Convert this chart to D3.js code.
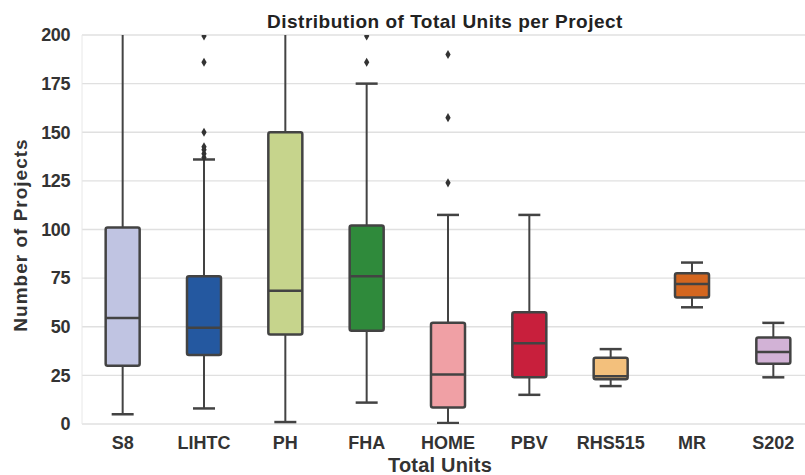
<!DOCTYPE html>
<html>
<head>
<meta charset="utf-8">
<script src="https://cdn.jsdelivr.net/npm/d3@7"></script>
<style>
  body { margin: 0; background: #fff; }
  svg { font-family: "Liberation Sans", Arial, sans-serif; }
</style>
</head>
<body>
<div id="chart"></div>
<script>
const categories = ['S8', 'LIHTC', 'PH', 'FHA', 'HOME', 'PBV', 'RHS515', 'MR', 'S202'];
const colors = ['#c0c4e2', '#2458a0', '#c6d48c', '#2f8a3b', '#f0a0a5', '#c81f3c', '#f3c07c', '#d4661f', '#d2b2d6'];
// five number summaries
const whiskerLow = [5, 8, 1, 11, 0.5, 15, 19.5, 60, 24];
const q1 = [30, 35.5, 46, 48, 8.5, 24, 23, 65, 31];
const median = [54.5, 49.5, 68.5, 76, 25.5, 41.5, 24.5, 72, 37];
const q3 = [101, 76, 150, 102, 52, 57.5, 34, 77.5, 44.5];
const whiskerHigh = [260, 136, 260, 175, 107.5, 107.5, 38.5, 83, 52];
const outliers = [
  [],
  [137, 139, 141, 142.5, 150, 186, 199.5],
  [],
  [186, 199.5],
  [124, 157.5, 190],
  [], [], [], []
];
const yTicks = [0, 25, 50, 75, 100, 125, 150, 175, 200];

const width = 805, height = 475;
const margin = { left: 82, top: 35, bottom: 51 };

const svg = d3.select('#chart').append('svg')
  .attr('width', width)
  .attr('height', height);

const x = d3.scaleBand()
  .domain(categories)
  .range([margin.left, 814]);

const y = d3.scaleLinear()
  .domain([0, 200])
  .range([height - margin.bottom, margin.top]);

svg.append('defs').append('clipPath').attr('id', 'plot')
  .append('rect')
  .attr('x', margin.left)
  .attr('y', margin.top)
  .attr('width', width - margin.left)
  .attr('height', y(0) - margin.top);

// grid
svg.append('g')
  .selectAll('line')
  .data(yTicks)
  .enter()
  .append('line')
  .attr('x1', margin.left)
  .attr('x2', width)
  .attr('y1', (d) => y(d))
  .attr('y2', (d) => y(d))
  .style('stroke', '#e0e0e0')
  .style('stroke-width', 1.3);

svg.append('line')
  .attr('x1', margin.left).attr('x2', margin.left)
  .attr('y1', margin.top).attr('y2', y(0))
  .style('stroke', '#e8e8e8');

// y axis
const yAxis = svg.append('g')
  .attr('transform', `translate(${margin.left},0)`)
  .call(d3.axisLeft(y).tickValues(yTicks).tickSize(0).tickPadding(12));
yAxis.select('.domain').remove();
yAxis.selectAll('text')
  .style('font-size', '18px')
  .style('font-weight', 'bold')
  .style('fill', '#333')
  .style('letter-spacing', '-0.4px');

// x axis
const xAxis = svg.append('g')
  .attr('transform', `translate(0,${y(0)})`)
  .call(d3.axisBottom(x).tickSize(0).tickPadding(12));
xAxis.select('.domain').remove();
xAxis.selectAll('text')
  .style('font-size', '18px')
  .style('font-weight', 'bold')
  .style('fill', '#333');

const boxW = 34, capW = 22;
const g = svg.append('g').attr('clip-path', 'url(#plot)');
const idx = d3.range(categories.length);
const cx = (i) => x(categories[i]) + x.bandwidth() / 2;
const lineColor = '#434343';

// whiskers
g.selectAll('.whisk')
  .data(idx)
  .enter()
  .append('line')
  .attr('class', 'whisk')
  .attr('x1', cx).attr('x2', cx)
  .attr('y1', (i) => y(whiskerLow[i]))
  .attr('y2', (i) => y(whiskerHigh[i]))
  .style('stroke', lineColor)
  .style('stroke-width', 2);

[whiskerLow, whiskerHigh].forEach((arr) => {
  g.append('g').selectAll('line')
    .data(idx)
    .enter()
    .append('line')
    .attr('x1', (i) => cx(i) - capW / 2)
    .attr('x2', (i) => cx(i) + capW / 2)
    .attr('y1', (i) => y(arr[i]))
    .attr('y2', (i) => y(arr[i]))
    .style('stroke', lineColor)
    .style('stroke-width', 2.5);
});

// boxes
g.selectAll('.box')
  .data(idx)
  .enter()
  .append('rect')
  .attr('class', 'box')
  .attr('x', (i) => cx(i) - boxW / 2)
  .attr('width', boxW)
  .attr('y', (i) => y(q3[i]))
  .attr('height', (i) => y(q1[i]) - y(q3[i]))
  .attr('rx', 2)
  .style('fill', (i) => colors[i])
  .style('stroke', lineColor)
  .style('stroke-width', 2.5);

g.selectAll('.med')
  .data(idx)
  .enter()
  .append('line')
  .attr('class', 'med')
  .attr('x1', (i) => cx(i) - boxW / 2)
  .attr('x2', (i) => cx(i) + boxW / 2)
  .attr('y1', (i) => y(median[i]))
  .attr('y2', (i) => y(median[i]))
  .style('stroke', lineColor)
  .style('stroke-width', 2.5);

// outliers
const pts = [];
outliers.forEach((arr, i) => arr.forEach((v) => pts.push({ i, v })));
g.selectAll('.out')
  .data(pts)
  .enter()
  .append('path')
  .attr('class', 'out')
  .attr('d', d3.symbol().type(d3.symbolDiamond).size(24))
  .attr('transform', (d) => `translate(${cx(d.i)},${y(d.v)})`)
  .style('fill', '#333');

// titles
svg.append('text')
  .attr('x', 445).attr('y', 28)
  .attr('text-anchor', 'middle')
  .style('font-size', '19px')
  .style('font-weight', 'bold')
  .style('fill', '#222')
  .style('letter-spacing', '0.5px')
  .text('Distribution of Total Units per Project');

svg.append('text')
  .attr('x', 440).attr('y', 472)
  .attr('text-anchor', 'middle')
  .style('font-size', '20px')
  .style('font-weight', 'bold')
  .style('fill', '#333')
  .style('letter-spacing', '0.2px')
  .text('Total Units');

svg.append('text')
  .attr('transform', 'translate(27,235) rotate(-90)')
  .attr('text-anchor', 'middle')
  .style('font-size', '19px')
  .style('font-weight', 'bold')
  .style('fill', '#333')
  .style('letter-spacing', '1px')
  .text('Number of Projects');
</script>
</body>
</html>
